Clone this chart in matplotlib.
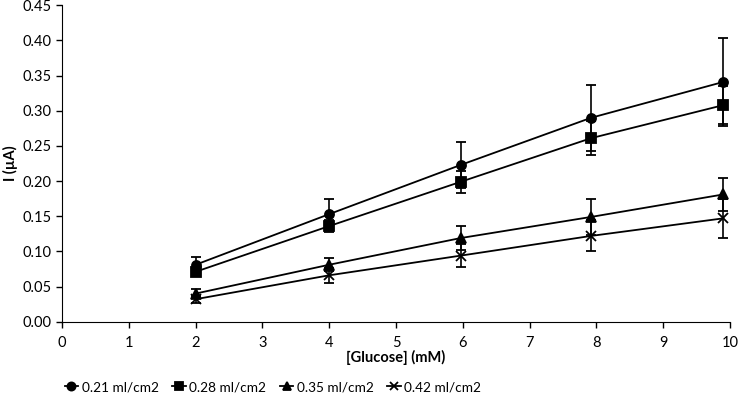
import matplotlib.pyplot as plt

plt.rcParams['font.family'] = ['Lato', 'DejaVu Sans']

glucose = [2, 4, 5.97, 7.92, 9.9]

labels = ['0.21 ml/cm2', '0.28 ml/cm2', '0.35 ml/cm2', '0.42 ml/cm2']
markers = ['o', 's', '^', 'x']

i_021 = [0.081, 0.153, 0.223, 0.290, 0.341]
i_028 = [0.071, 0.136, 0.199, 0.261, 0.308]
i_035 = [0.040, 0.081, 0.119, 0.149, 0.181]
i_042 = [0.032, 0.066, 0.094, 0.122, 0.147]

err_021 = [0.011, 0.022, 0.033, 0.047, 0.062]
err_028 = [0.005, 0.008, 0.016, 0.024, 0.027]
err_035 = [0.006, 0.009, 0.017, 0.025, 0.024]
err_042 = [0.005, 0.011, 0.016, 0.022, 0.028]

series = [i_021, i_028, i_035, i_042]
errors = [err_021, err_028, err_035, err_042]

fig = plt.figure(figsize=(7.39, 4.05), dpi=100)
ax = fig.add_axes([62 / 739, 1 - 321.7 / 405, 668 / 739, 316.4 / 405])

for vals, err, m, lab in zip(series, errors, markers, labels):
    ax.errorbar(glucose, vals, yerr=err, color='black', marker=m, markersize=6.5,
                markeredgewidth=1.3, linewidth=1.3, elinewidth=1.2, capsize=3.5,
                capthick=1.2, label=lab)

ax.set_xlim(0, 10)
ax.set_ylim(0, 0.45)
ax.set_xticks(range(0, 11))
ax.set_yticks([i * 0.05 for i in range(10)])
ax.set_yticklabels(['%.2f' % (i * 0.05) for i in range(10)])
ax.spines['top'].set_visible(False)
ax.spines['right'].set_visible(False)
ax.tick_params(axis='both', labelsize=10.5, direction='out', length=4, width=1)
ax.tick_params(axis='x', pad=6)

ax.set_xlabel('[Glucose] (mM)', fontsize=10.5, fontweight='bold', labelpad=0)
ax.set_ylabel('I (µA)', fontsize=10.5, fontweight='bold', labelpad=3)

# legend shows only line + marker, no error bars
handles, labs = ax.get_legend_handles_labels()
handles = [h[0] for h in handles]
fig.legend(handles, labs, loc='center', bbox_to_anchor=(273 / 739, 1 - 387 / 405), ncol=4,
           frameon=False, fontsize=9.8, handlelength=1.0, columnspacing=1.0,
           handletextpad=0.25, markerscale=0.9)

fig.savefig('out.png', dpi=100)
